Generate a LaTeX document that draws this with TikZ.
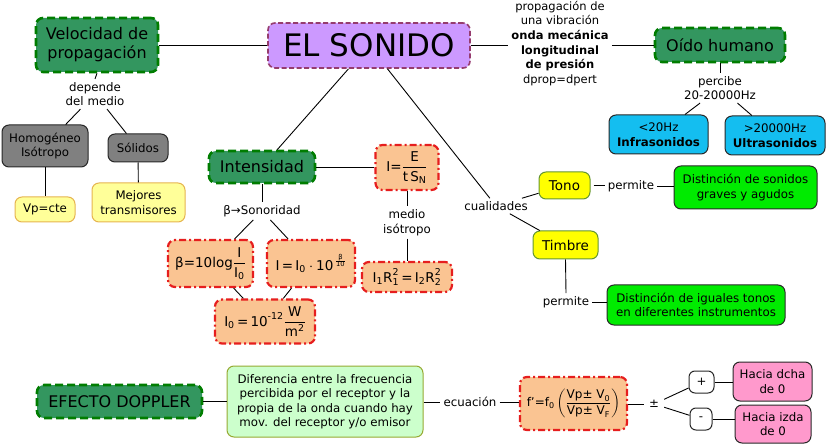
\documentclass[tikz,border=0pt]{standalone}
\usepackage{amsmath}
\usepackage{fontspec}
\setmainfont{DejaVu Sans}
\usetikzlibrary{calc}
\definecolor{sgreen}{RGB}{51,150,95}
\definecolor{dgreen}{RGB}{0,125,0}
\definecolor{violetfill}{RGB}{204,153,255}
\definecolor{violetdraw}{RGB}{150,60,110}
\definecolor{grayfill}{RGB}{128,128,128}
\definecolor{lyellow}{RGB}{255,255,153}
\definecolor{lyellowdraw}{RGB}{230,180,80}
\definecolor{cyanfill}{RGB}{20,190,240}
\definecolor{peach}{RGB}{250,196,146}
\definecolor{reddraw}{RGB}{230,30,30}
\definecolor{yellowfill}{RGB}{255,255,0}
\definecolor{olivedraw}{RGB}{100,150,50}
\definecolor{bgreen}{RGB}{0,235,0}
\definecolor{pgreen}{RGB}{204,255,204}
\definecolor{pgreendraw}{RGB}{150,170,50}
\definecolor{pink}{RGB}{255,153,204}
\definecolor{darkline}{RGB}{40,40,40}
\begin{document}
\begin{tikzpicture}[x=1pt,y=-1pt,
  wh/.style 2 args={minimum width=#1pt, minimum height=#2pt},
  box/.style={rounded corners=7pt, align=center, inner sep=1pt,
    font=\fontsize{11.8}{14.5}\selectfont},
  greenbox/.style={box, fill=sgreen, draw=dgreen, line width=2.6pt,
    dash pattern=on 8pt off 4pt, font=\fontsize{16}{19}\selectfont},
  purplebox/.style={box, fill=violetfill, draw=violetdraw, line width=1.6pt,
    dash pattern=on 5pt off 2.5pt, font=\fontsize{31}{34}\selectfont},
  graybox/.style={box, fill=grayfill, draw=darkline, line width=1pt},
  ybox/.style={box, fill=lyellow, draw=lyellowdraw, line width=1pt},
  cbox/.style={box, fill=cyanfill, draw=darkline, line width=1pt},
  fbox/.style={box, fill=peach, draw=reddraw, line width=2.2pt,
    dash pattern=on 7pt off 3pt on 2pt off 3pt, font=\fontsize{13.5}{15}\selectfont},
  tbox/.style={box, fill=yellowfill, draw=olivedraw, line width=1pt,
    font=\fontsize{13.5}{16}\selectfont},
  gbox/.style={box, fill=bgreen, draw=darkline, line width=1pt},
  lgbox/.style={box, fill=pgreen, draw=pgreendraw, line width=1pt},
  pbox/.style={box, fill=pink, draw=darkline, line width=1pt},
  wbox/.style={box, fill=white, draw=darkline, line width=1pt, rounded corners=6pt},
  lbl/.style={align=center, inner sep=3pt, font=\fontsize{11.8}{14.6}\selectfont},
  conn/.style={draw=black, line width=0.9pt}
]
\useasboundingbox (0,0) rectangle (827,446);

% top level
\node[purplebox, wh={202}{45}] (sonido) at (369,45.5) {EL SONIDO};
\node[greenbox, wh={122}{54}] (vel) at (97,45) {Velocidad de\\propagación};
\node[lbl] (depende) at (95,94) {depende\\del medio};
\node[graybox, wh={86}{42}] (homog) at (45,146) {Homogéneo\\Isótropo};
\node[graybox, wh={60}{28}] (solidos) at (138,148) {Sólidos};
\node[ybox, wh={60}{25}] (vpcte) at (45,209.5) {Vp=cte};
\node[ybox, wh={93}{39}] (mejores) at (138.5,202.5) {Mejores\\transmisores};

\node[lbl, font=\fontsize{11.5}{14.6}\selectfont] (prop) at (560,43.5) {propagación de\\una vibración\\\textbf{onda mecánica}\\\textbf{longitudinal}\\\textbf{de presión}\\dprop=dpert};
\node[greenbox, wh={130}{34}] (oido) at (720,45) {Oído humano};
\node[lbl] (percibe) at (720,88) {percibe\\20-20000Hz};
\node[cbox, wh={99}{39}] (infra) at (658.5,134.5) {<20Hz\\\textbf{Infrasonidos}};
\node[cbox, wh={100}{39}] (ultra) at (775,135.5) {>20000Hz\\\textbf{Ultrasonidos}};

% intensidad
\node[greenbox, wh={106}{32}] (intens) at (262,167) {Intensidad};
\node[fbox, wh={63}{45}] (IE) at (407,167.5) {$\text{I=}\dfrac{\text{E}}{\text{t\,S}_{\text{N}}}$};
\node[lbl] (medio) at (407,222.5) {medio\\isótropo};
\node[fbox, wh={90}{30}] (IR) at (407,277) {$\text{I}_{\text{1}}\text{R}_{\text{1}}^{\text{2}}\text{\,=\,I}_{\text{2}}\text{R}_{\text{2}}^{\text{2}}$};
\node[lbl] (sonor) at (262,211) {β→Sonoridad};
\node[fbox, wh={85}{47}] (beta) at (210.5,263.5) {$\text{β=10log}\dfrac{\text{I}}{\text{I}_{\text{0}}}$};
\node[fbox, wh={88}{47}] (Ieq) at (311,263.5) {$\text{I\,=\,I}_{\text{0}}\cdot\text{10}^{\,\frac{\text{β}}{\text{10}}}$};
\node[fbox, wh={100}{44}] (I0) at (265,321.5) {$\text{I}_{\text{0}}\text{\,=\,10}^{\text{-12}}\dfrac{\text{W}}{\text{m}^{\text{2}}}$};

% cualidades
\node[lbl] (cual) at (496,206) {cualidades};
\node[tbox, wh={51}{27}] (tono) at (564.5,185.5) {Tono};
\node[lbl] (perm1) at (631,186) {permite};
\node[gbox, wh={143}{43}] (dist1) at (745.5,187.5) {Distinción de sonidos\\graves y agudos};
\node[tbox, wh={65}{28}] (timbre) at (565.5,245) {Timbre};
\node[lbl] (perm2) at (566,302) {permite};
\node[gbox, wh={178}{40}] (dist2) at (696,305) {Distinción de iguales tonos\\en diferentes instrumentos};

% doppler
\node[greenbox, wh={165}{33}] (doppler) at (119.5,401.5) {EFECTO DOPPLER};
\node[lgbox, wh={196}{71}] (dif) at (325,401.5) {Diferencia entre la frecuencia\\percibida por el receptor y la\\propia de la onda cuando hay\\mov. del receptor y/o emisor};
\node[lbl] (ecu) at (470,402) {ecuación};
\node[fbox, wh={107}{53}, font=\fontsize{12}{14}\selectfont] (feq) at (573.5,403.5) {$\text{f'=f}_{\text{0}}\left(\dfrac{\text{Vp± V}_{\text{0}}}{\text{Vp± V}_{\text{F}}}\right)$};
\node[lbl, inner sep=5pt] (pm) at (654,404) {±};
\node[wbox, wh={25}{22}] (plus) at (701.5,382) {+};
\node[wbox, wh={22}{22}] (minus) at (701,419) {-};
\node[pbox, wh={79}{39}] (dcha) at (772.5,381.5) {Hacia dcha\\de 0};
\node[pbox, wh={76}{38}] (izda) at (773,424) {Hacia izda\\de 0};

% connectors
\draw[conn] (vel.east) -- (vel.east -| sonido.west);
\draw[conn] (vel.south) -- (depende.north);
\draw[conn] (depende) -- (homog);
\draw[conn] (depende) -- (solidos);
\draw[conn] (homog) -- (vpcte);
\draw[conn] (solidos) -- (mejores);

\draw[conn] (sonido.east) -- (sonido.east -| prop.west);
\draw[conn] (oido.west -| prop.east) -- (oido.west);
\draw[conn] (oido.south) -- (percibe.north);
\draw[conn] (percibe) -- (infra);
\draw[conn] (percibe) -- (ultra);

\draw[conn] (sonido) -- (intens);
\draw[conn] (sonido) -- (cual);
\draw[conn] (intens.east) -- (intens.east -| IE.west);
\draw[conn] (IE) -- (medio);
\draw[conn] (medio) -- (IR);
\draw[conn] (intens.south) -- (sonor.north);
\draw[conn] (sonor) -- (beta);
\draw[conn] (sonor) -- (Ieq);
\draw[conn] (beta) -- (I0);
\draw[conn] (Ieq) -- (I0);

\draw[conn] (cual) -- (tono);
\draw[conn] (cual) -- (timbre);
\draw[conn, shorten <=3pt] (tono.east) -- (tono.east -| perm1.west);
\draw[conn] (perm1.east) -- (perm1.east -| dist1.west);
\draw[conn] (timbre.south) -- (perm2.north);
\draw[conn] (perm2.east) -- (perm2.east -| dist2.west);

\draw[conn] (doppler.east) -- (doppler.east -| dif.west);
\draw[conn] (dif.east |- ecu.west) -- (ecu.west);
\draw[conn] (ecu.east) -- (ecu.east -| feq.west);
\draw[conn] (feq.east |- pm.west) -- (pm.west);
\draw[conn] (pm) -- (plus);
\draw[conn] (pm) -- (minus);
\draw[conn] (plus.east) -- (plus.east -| dcha.west);
\draw[conn] (minus.east) -- (minus.east -| izda.west);
\end{tikzpicture}
\end{document}
